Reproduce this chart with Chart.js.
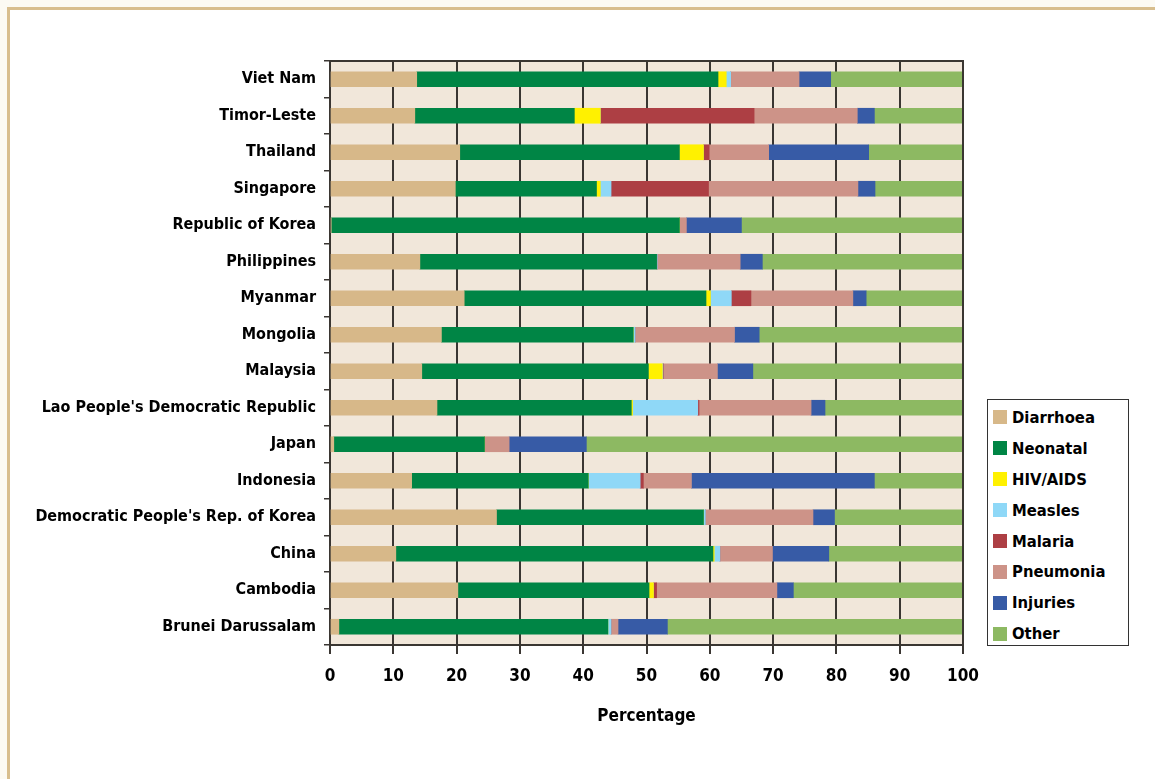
<!DOCTYPE html>
<html>
<head>
<meta charset="utf-8">
<script src="https://cdn.jsdelivr.net/npm/chart.js@4/dist/chart.umd.min.js"></script>
<style>
  html, body { margin: 0; padding: 0; width: 1155px; height: 779px; overflow: hidden; background: #FCFAF3; }
  #frame { position: absolute; left: 7px; top: 7px; width: 1200px; height: 800px; background: #fff;
           border-left: 3px solid #D8BE8E; border-top: 3px solid #D8BE8E; }
  #wrap { position: absolute; left: 0; top: 0; width: 1155px; height: 779px; }
  #legend { position: absolute; left: 987px; top: 399px; width: 142px; height: 247px; box-sizing: border-box;
            border: 1px solid #333; background: #fff; padding: 2px 0 0 5px;
            font-family: "Liberation Sans Narrow", "DejaVu Sans Condensed", sans-serif; font-weight: bold; font-size: 16.5px; }
  .item { height: 30.9px; display: flex; align-items: center; }
  .sw { width: 14px; height: 14px; margin-right: 5px; }
</style>
</head>
<body>
<div id="frame"></div>
<div id="wrap"><canvas id="c" width="1155" height="779"></canvas></div>
<div id="legend"></div>
<script>
const countries = ["Viet Nam","Timor-Leste","Thailand","Singapore","Republic of Korea","Philippines","Myanmar","Mongolia","Malaysia","Lao People's Democratic Republic","Japan","Indonesia","Democratic People's Rep. of Korea","China","Cambodia","Brunei Darussalam"];
const seriesNames = ["Diarrhoea","Neonatal","HIV/AIDS","Measles","Malaria","Pneumonia","Injuries","Other"];
const diarrhoea = [13.7,13.4,20.5,19.8,0.2,14.2,21.2,17.6,14.5,16.9,0.6,12.9,26.3,10.4,20.2,1.4];
const neonatal  = [47.6,25.2,34.7,22.3,55.0,37.4,38.2,30.3,35.8,30.7,23.8,27.9,32.7,50.1,30.2,42.5];
const hivAids   = [1.3,4.1,3.8,0.6,0,0,0.7,0,2.2,0.2,0,0,0,0.2,0.7,0];
const measles   = [0.7,0,0,1.7,0,0.1,3.3,0.3,0.1,10.3,0,8.2,0.3,0.9,0,0.5];
const malaria   = [0,24.3,0.9,15.4,0,0,3.1,0,0.1,0.2,0,0.5,0,0,0.5,0];
const pneumonia = [10.8,16.3,9.4,23.6,1.1,13.1,16.1,15.7,8.5,17.7,3.9,7.6,17.0,8.3,19.0,1.1];
const injuries  = [5.0,2.7,15.8,2.7,8.7,3.5,2.1,3.9,5.6,2.2,12.2,28.9,3.4,8.9,2.6,7.8];
const other     = [20.9,14.0,14.9,13.9,35.0,31.7,15.3,32.2,33.2,21.8,59.5,14.0,20.3,21.2,26.8,46.7];
const xTicks = [0,10,20,30,40,50,60,70,80,90,100];

const colors = ["#D7B889","#008545","#FFF100","#8FD8F7","#AD3F44","#CD9388","#375BA6","#8DB962"];
const values = [diarrhoea, neonatal, hivAids, measles, malaria, pneumonia, injuries, other];

const FONT = '"Liberation Sans Narrow", "DejaVu Sans Condensed", sans-serif';

const datasets = seriesNames.map((n, i) => ({
  label: n, data: values[i], backgroundColor: colors[i], borderWidth: 0,
  barThickness: 15, stack: 's'
}));

const bgPlugin = {
  id: 'bg',
  beforeDraw(chart) {
    const {ctx, chartArea: a} = chart;
    ctx.save();
    ctx.fillStyle = '#F1E7DA';
    ctx.fillRect(a.left, a.top, a.right - a.left, a.bottom - a.top);
    ctx.restore();
  },
  afterDatasetsDraw(chart) {
    const {ctx, chartArea: a} = chart;
    ctx.save();
    ctx.strokeStyle = '#3a3632';
    ctx.lineWidth = 2;
    ctx.beginPath();
    ctx.moveTo(a.left, a.top); ctx.lineTo(a.right, a.top); ctx.lineTo(a.right, a.bottom);
    ctx.stroke();
    ctx.restore();
  }
};

new Chart(document.getElementById('c'), {
  type: 'bar',
  data: { labels: countries, datasets },
  plugins: [bgPlugin],
  options: {
    indexAxis: 'y',
    responsive: false,
    animation: false,
    layout: { padding: { top: 61, right: 192, bottom: 52, left: 0 } },
    plugins: { legend: { display: false }, tooltip: { enabled: false } },
    scales: {
      x: {
        stacked: true, min: 0, max: 100,
        afterBuildTicks(s) { s.ticks = xTicks.map(v => ({ value: v })); },
        afterFit(s) { s.height = 82; },
        grid: { color: '#3a3632', lineWidth: 2, tickLength: 9, drawOnChartArea: true },
        border: { display: true, color: '#3a3632', width: 2 },
        ticks: { color: '#000', padding: 12, font: { family: FONT, weight: 'bold', size: 17 } },
        title: { display: true, text: 'Percentage', color: '#000', padding: { top: 14, bottom: 0 }, font: { family: FONT, weight: 'bold', size: 17 } }
      },
      y: {
        stacked: true,
        afterFit(s) { s.width = 330; },
        grid: { drawOnChartArea: false, color: '#3a3632', lineWidth: 1.5, tickLength: 6 },
        border: { display: true, color: '#3a3632', width: 2 },
        ticks: { color: '#000', padding: 8, font: { family: FONT, weight: 'bold', size: 16 } }
      }
    }
  }
});

const lg = document.getElementById('legend');
seriesNames.forEach((n, i) => {
  const d = document.createElement('div'); d.className = 'item';
  const s = document.createElement('span'); s.className = 'sw'; s.style.background = colors[i];
  const t = document.createElement('span'); t.textContent = n;
  d.appendChild(s); d.appendChild(t); lg.appendChild(d);
});
</script>
</body>
</html>
